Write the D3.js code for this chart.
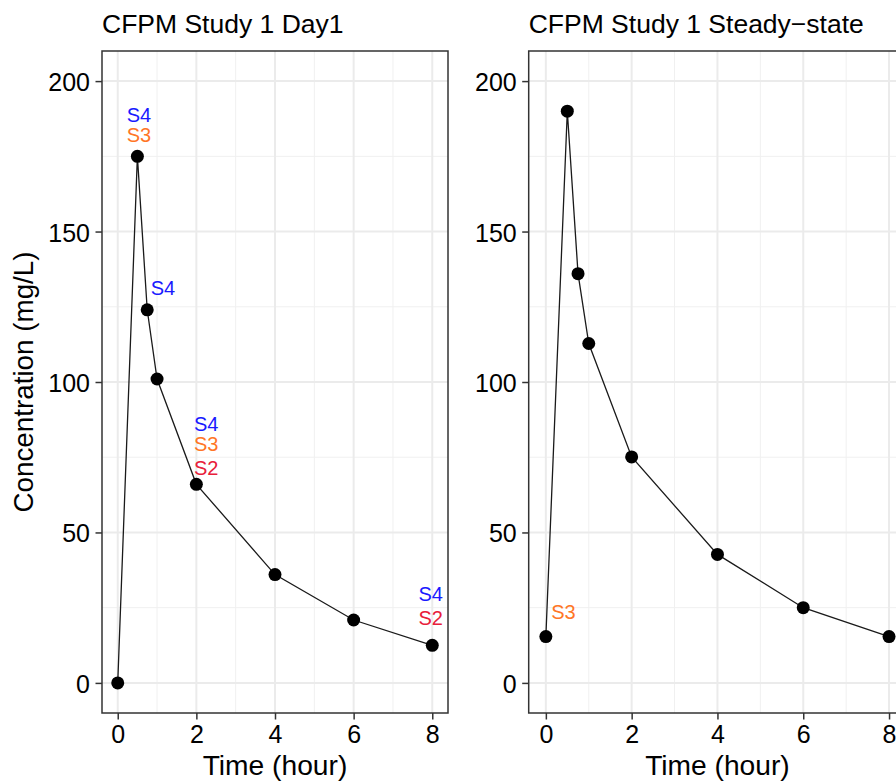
<!DOCTYPE html>
<html>
<head>
<meta charset="utf-8">
<script src="https://cdn.jsdelivr.net/npm/d3@7"></script>
<style>
  body { margin: 0; background: #fff; }
  svg { display: block; }
  text { font-family: "Liberation Sans", Arial, sans-serif; }
</style>
</head>
<body>
<script>
// sampling times (hour) and measured concentrations (mg/L)
var times = [0, 0.5, 0.75, 1, 2, 4, 6, 8];
var day1Conc = [0, 175, 124, 101, 66, 36, 20.9, 12.5];
var steadyConc = [15.4, 190, 136, 112.8, 75.1, 42.7, 25, 15.4];

// site labels placed near the points (time, concentration, site)
var day1Labels = [
  { time: 0.54, conc: 188.7, site: "S4" },
  { time: 0.54, conc: 182.1, site: "S3" },
  { time: 1.15, conc: 131.3, site: "S4" },
  { time: 2.25, conc: 86.2, site: "S4" },
  { time: 2.25, conc: 79.3, site: "S3" },
  { time: 2.25, conc: 71.5, site: "S2" },
  { time: 7.96, conc: 29.5, site: "S4" },
  { time: 7.96, conc: 21.7, site: "S2" }
];
var steadyLabels = [
  { time: 0.41, conc: 23.7, site: "S3" }
];

var titles = ["CFPM Study 1 Day1", "CFPM Study 1 Steady\u2212state"];
var xTicks = [0, 2, 4, 6, 8];
var xMinor = [1, 3, 5, 7];
var yTicks = [0, 50, 100, 150, 200];
var yMinor = [25, 75, 125, 175];

var siteColor = { S4: "#1a1aff", S3: "#ff7626", S2: "#e8203a" };

var w = 896, h = 783;
var svg = d3.select("body").append("svg")
  .attr("width", w)
  .attr("height", h);

var panelTop = 51, panelBottom = 713;
var y = d3.scaleLinear().domain([-10, 210]).range([panelBottom, panelTop]);

var panels = [
  { title: titles[0], conc: day1Conc, labels: day1Labels, left: 102, right: 448 },
  { title: titles[1], conc: steadyConc, labels: steadyLabels, left: 528.7, right: 906.2 }
];

panels.forEach(function(p) {
  var x = d3.scaleLinear().domain([-0.4, 8.4]).range([p.left, p.right]);
  var g = svg.append("g").attr("class", "panel");

  // minor grid
  g.selectAll(".xminor").data(xMinor).enter().append("line")
    .attr("x1", x).attr("x2", x).attr("y1", panelTop).attr("y2", panelBottom)
    .attr("stroke", "#f0f0f0").attr("stroke-width", 1);
  g.selectAll(".yminor").data(yMinor).enter().append("line")
    .attr("x1", p.left).attr("x2", p.right).attr("y1", y).attr("y2", y)
    .attr("stroke", "#f0f0f0").attr("stroke-width", 1);
  // major grid
  g.selectAll(".xmajor").data(xTicks).enter().append("line")
    .attr("x1", x).attr("x2", x).attr("y1", panelTop).attr("y2", panelBottom)
    .attr("stroke", "#ebebeb").attr("stroke-width", 2);
  g.selectAll(".ymajor").data(yTicks).enter().append("line")
    .attr("x1", p.left).attr("x2", p.right).attr("y1", y).attr("y2", y)
    .attr("stroke", "#ebebeb").attr("stroke-width", 2);

  var pts = times.map(function(t, i) { return { time: t, conc: p.conc[i] }; });

  var line = d3.line()
    .x(function(d) { return x(d.time); })
    .y(function(d) { return y(d.conc); });

  g.append("path").datum(pts)
    .attr("d", line)
    .attr("fill", "none")
    .attr("stroke", "#1a1a1a")
    .attr("stroke-width", 1.3);

  g.selectAll(".pt").data(pts).enter().append("circle")
    .attr("cx", function(d) { return x(d.time); })
    .attr("cy", function(d) { return y(d.conc); })
    .attr("r", 6.5)
    .attr("fill", "#000");

  g.selectAll(".lab").data(p.labels).enter().append("text")
    .attr("x", function(d) { return x(d.time); })
    .attr("y", function(d) { return y(d.conc); })
    .attr("dy", "0.36em")
    .attr("text-anchor", "middle")
    .attr("font-size", 20)
    .attr("fill", function(d) { return siteColor[d.site]; })
    .text(function(d) { return d.site; });

  // panel border
  g.append("rect")
    .attr("x", p.left).attr("y", panelTop)
    .attr("width", p.right - p.left).attr("height", panelBottom - panelTop)
    .attr("fill", "none").attr("stroke", "#333").attr("stroke-width", 1.5);

  // axes
  var xAxis = g.append("g")
    .attr("transform", "translate(0," + panelBottom + ")")
    .call(d3.axisBottom(x).tickValues(xTicks).tickSize(6.5).tickPadding(5.5));
  var yAxis = g.append("g")
    .attr("transform", "translate(" + p.left + ",0)")
    .call(d3.axisLeft(y).tickValues(yTicks).tickSize(6.5).tickPadding(5.5));
  [xAxis, yAxis].forEach(function(a) {
    a.select(".domain").remove();
    a.selectAll(".tick line").attr("stroke", "#333").attr("stroke-width", 1.5);
    a.selectAll(".tick text").attr("fill", "#000")
      .attr("font-size", 25)
      .attr("font-family", "Liberation Sans, Arial, sans-serif");
  });
  yAxis.selectAll(".tick text").attr("dy", "0.38em");

  g.append("text")
    .attr("x", p.left)
    .attr("y", 33)
    .attr("font-size", 26.5)
    .attr("fill", "#000")
    .text(p.title);

  g.append("text")
    .attr("x", (p.left + p.right) / 2)
    .attr("y", 775)
    .attr("text-anchor", "middle")
    .attr("font-size", 28.2)
    .attr("fill", "#000")
    .text("Time (hour)");
});

svg.append("text")
  .attr("transform", "translate(33," + ((panelTop + panelBottom) / 2) + ") rotate(-90)")
  .attr("text-anchor", "middle")
  .attr("font-size", 27.8)
  .attr("fill", "#000")
  .text("Concentration (mg/L)");
</script>
</body>
</html>
